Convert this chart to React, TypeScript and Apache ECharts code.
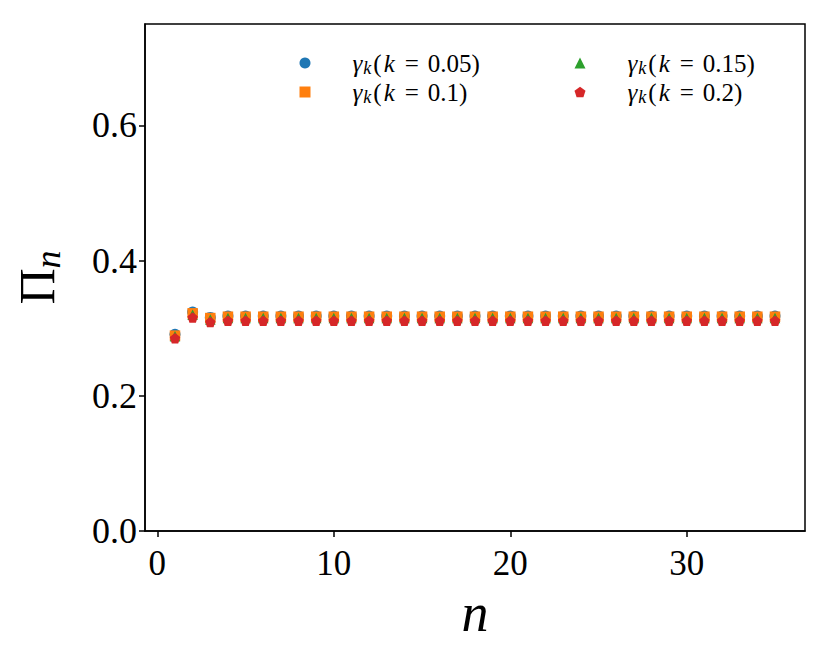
import React, { useEffect, useRef } from 'react';
import * as echarts from 'echarts';

// n = 1..35
const nValues = [
  1, 2, 3, 4, 5, 6, 7, 8, 9, 10, 11, 12, 13, 14, 15, 16, 17, 18,
  19, 20, 21, 22, 23, 24, 25, 26, 27, 28, 29, 30, 31, 32, 33, 34, 35,
];

const piK005 = [
  0.291, 0.324, 0.316, 0.318, 0.318, 0.318, 0.318, 0.318, 0.318, 0.318, 0.318, 0.318,
  0.318, 0.318, 0.318, 0.318, 0.318, 0.318, 0.318, 0.318, 0.318, 0.318, 0.318, 0.318,
  0.318, 0.318, 0.318, 0.318, 0.318, 0.318, 0.318, 0.318, 0.318, 0.318, 0.318,
];
const piK010 = [
  0.289, 0.322, 0.315, 0.317, 0.317, 0.317, 0.317, 0.317, 0.317, 0.317, 0.317, 0.317,
  0.317, 0.317, 0.317, 0.317, 0.317, 0.317, 0.317, 0.317, 0.317, 0.317, 0.317, 0.317,
  0.317, 0.317, 0.317, 0.317, 0.317, 0.317, 0.317, 0.317, 0.317, 0.317, 0.317,
];
const piK015 = [
  0.288, 0.320, 0.313, 0.315, 0.315, 0.315, 0.315, 0.315, 0.315, 0.315, 0.315, 0.315,
  0.315, 0.315, 0.315, 0.315, 0.315, 0.315, 0.315, 0.315, 0.315, 0.315, 0.315, 0.315,
  0.315, 0.315, 0.315, 0.315, 0.315, 0.315, 0.315, 0.315, 0.315, 0.315, 0.315,
];
const piK020 = [
  0.285, 0.316, 0.309, 0.311, 0.311, 0.311, 0.311, 0.311, 0.311, 0.311, 0.311, 0.311,
  0.311, 0.311, 0.311, 0.311, 0.311, 0.311, 0.311, 0.311, 0.311, 0.311, 0.311, 0.311,
  0.311, 0.311, 0.311, 0.311, 0.311, 0.311, 0.311, 0.311, 0.311, 0.311, 0.311,
];

const kLabels = ['0.05', '0.1', '0.15', '0.2'];
const xTicks = [0, 10, 20, 30];
const yTicks = [0, 0.2, 0.4, 0.6];

const FONT = '"Liberation Serif", "DejaVu Serif", serif';
const PENTAGON = 'path://M0,-1 L0.951,-0.309 L0.588,0.809 L-0.588,0.809 L-0.951,-0.309 Z';

const seriesDefs = [
  { k: kLabels[0], data: piK005, color: '#1f77b4', symbol: 'circle' },
  { k: kLabels[1], data: piK010, color: '#ff7f0e', symbol: 'rect' },
  { k: kLabels[2], data: piK015, color: '#2ca02c', symbol: 'triangle' },
  { k: kLabels[3], data: piK020, color: '#d62728', symbol: PENTAGON },
];

const LEG_SIZE = 25;
const legendRich = {
  g: { fontFamily: FONT, fontStyle: 'italic', fontSize: LEG_SIZE, color: '#000', padding: [0, 1, 0, 37], lineHeight: 27 },
  s: { fontFamily: FONT, fontStyle: 'italic', fontSize: 18, color: '#000', padding: [10, 2, 0, 0], lineHeight: 27 },
  i: { fontFamily: FONT, fontStyle: 'italic', fontSize: LEG_SIZE, color: '#000', padding: [0, 1, 0, 2], lineHeight: 27 },
  e: { fontFamily: FONT, fontSize: LEG_SIZE, color: '#000', padding: [0, 9, 0, 9], lineHeight: 27 },
  r: { fontFamily: FONT, fontSize: LEG_SIZE, color: '#000', lineHeight: 27 },
};

const legendFormatter = (name: string) => {
  const k = name.replace('k=', '');
  return `{g|γ}{s|k}{r|(}{i|k}{e|=}{r|${k})}`;
};

export default function App() {
  const chartRef = useRef<HTMLDivElement>(null);

  useEffect(() => {
    if (!chartRef.current) return;
    const chart = echarts.init(chartRef.current, undefined, { renderer: 'svg' });

    const legendBase = {
      orient: 'vertical' as const,
      top: 49,
      padding: 0,
      itemGap: 1,
      itemWidth: 11,
      itemHeight: 11,
      selectedMode: false,
      formatter: legendFormatter,
      textStyle: { lineHeight: 27, rich: legendRich },
    };

    const option: echarts.EChartsOption = {
      animation: false,
      backgroundColor: '#fff',
      grid: {
        left: 145,
        right: 25,
        top: 24,
        bottom: 133,
        show: true,
        borderColor: '#000',
        borderWidth: 1.5,
        backgroundColor: 'transparent',
      },
      legend: [
        { ...legendBase, left: 299.5, data: ['k=' + kLabels[0], 'k=' + kLabels[1]] },
        { ...legendBase, left: 574.5, data: ['k=' + kLabels[2], 'k=' + kLabels[3]] },
      ],
      xAxis: {
        type: 'value',
        min: -0.7,
        max: 36.7,
        name: 'n',
        nameLocation: 'middle',
        nameGap: 54,
        nameTextStyle: { fontFamily: FONT, fontStyle: 'italic', fontSize: 54, color: '#000' },
        axisLine: { show: true, onZero: false, lineStyle: { color: '#000', width: 1.5 } },
        axisTick: { show: true, length: 6, lineStyle: { color: '#000', width: 1.5 }, customValues: xTicks },
        axisLabel: { fontFamily: FONT, fontSize: 35, color: '#000', margin: 15, customValues: xTicks },
        splitLine: { show: false },
      },
      yAxis: {
        type: 'value',
        min: 0,
        max: 0.75,
        name: '{pi|Π}{sub|n}',
        nameLocation: 'middle',
        nameGap: 79,
        nameTextStyle: {
          rich: {
            pi: { fontFamily: FONT, fontSize: 50, color: '#000' },
            sub: { fontFamily: FONT, fontStyle: 'italic', fontSize: 36, color: '#000', padding: [22, 0, 0, 0] },
          },
        },
        axisLine: { show: true, onZero: false, lineStyle: { color: '#000', width: 1.5 } },
        axisTick: { show: true, length: 6, lineStyle: { color: '#000', width: 1.5 }, customValues: yTicks },
        axisLabel: {
          fontFamily: FONT,
          fontSize: 36,
          color: '#000',
          margin: 8,
          customValues: yTicks,
          formatter: (v: number) => v.toFixed(1),
        },
        splitLine: { show: false },
      },
      series: seriesDefs.map((s) => ({
        name: 'k=' + s.k,
        type: 'scatter' as const,
        symbol: s.symbol,
        symbolSize: s.symbol === 'circle' ? 11 : 10.5,
        itemStyle: { color: s.color, opacity: 1 },
        data: nValues.map((n, i) => [n, s.data[i]]),
      })),
    };

    chart.setOption(option);
    return () => chart.dispose();
  }, []);

  return (
    <div
      ref={chartRef}
      style={{ position: 'fixed', left: 0, top: 0, width: 830, height: 664 }}
    />
  );
}
